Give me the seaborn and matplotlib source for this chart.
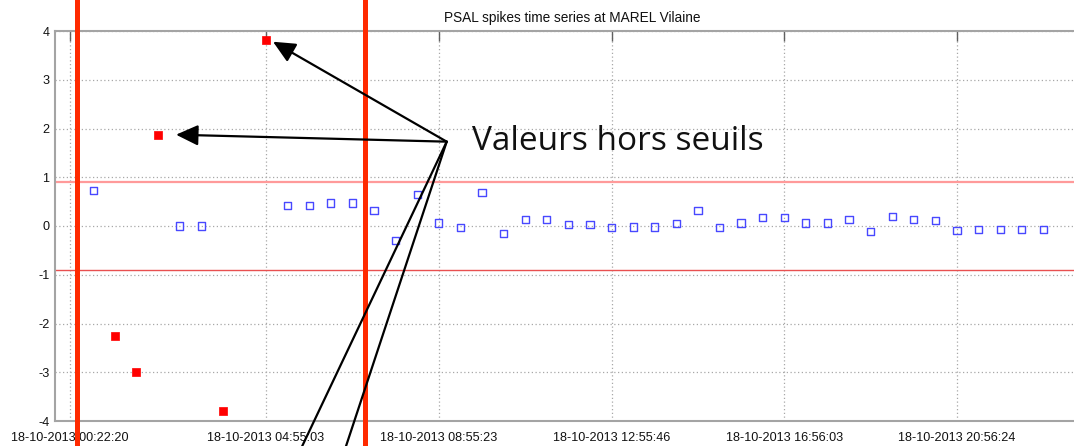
import numpy as np
import pandas as pd
import matplotlib
matplotlib.use("Agg")
import matplotlib.pyplot as plt
import matplotlib.dates as mdates
import seaborn as sns

DAY = "2013-10-18 "

# --- data -----------------------------------------------------------------
valid_times = ["00:54:43", "02:54:53", "03:24:55", "05:25:05", "05:55:08", "06:25:10",
               "06:55:13", "07:25:15", "07:55:18", "08:25:20", "08:55:23", "09:25:26",
               "09:55:29", "10:25:32", "10:55:34", "11:25:37", "11:55:40", "12:25:43",
               "12:55:46", "13:25:48", "13:55:50", "14:25:52", "14:55:54", "15:25:57",
               "15:55:59", "16:26:01", "16:56:03", "17:26:06", "17:56:08", "18:26:11",
               "18:56:14", "19:26:16", "19:56:19", "20:26:21", "20:56:24", "21:26:26",
               "21:56:29", "22:26:31", "22:56:34"]
valid_values = [0.73, 0.00, 0.00, 0.42, 0.42, 0.47,
                0.47, 0.31, -0.29, 0.65, 0.06, -0.03,
                0.68, -0.16, 0.14, 0.14, 0.03, 0.03,
                -0.03, -0.02, -0.02, 0.05, 0.32, -0.03,
                0.06, 0.18, 0.18, 0.06, 0.06, 0.14,
                -0.11, 0.20, 0.14, 0.12, -0.10, -0.07,
                -0.07, -0.07, -0.07]

spike_times = ["01:24:45", "01:54:48", "02:24:50", "03:54:58", "04:55:03"]
spike_values = [-2.26, -2.99, 1.87, -3.80, 3.82]

upper_threshold = 0.9
lower_threshold = -0.9

tick_times = ["00:22:20", "04:55:03", "08:55:23", "12:55:46", "16:56:03", "20:56:24"]
tick_labels = ["18-10-2013 " + t for t in tick_times]
y_ticks = [-4, -3, -2, -1, 0, 1, 2, 3, 4]

x_start, x_end = "2013-10-18 00:01:28", "2013-10-19 00:00:00"

# annotation overlay (vertical markers, arrows, label)
marker_line_times = ["00:32:04", "07:12:48"]
label_text = "Valeurs hors seuils"
arrow_origin = ("09:06:25", 1.73)
arrow_targets = [("05:04:47", 3.78), ("02:49:50", 1.873)]
line_targets = [("05:42:00", -4.62), ("06:44:00", -4.62)]
label_pos = ("09:41:40", 1.73)

def T(s):
    return pd.Timestamp(DAY + s)

def N(s):
    return mdates.date2num(T(s))

valid_df = pd.DataFrame({"time": [T(t) for t in valid_times], "value": valid_values})
spike_df = pd.DataFrame({"time": [T(t) for t in spike_times], "value": spike_values})

# --- figure -----------------------------------------------------------------
sns.set_style("white")
plt.rcParams["font.family"] = ["Liberation Sans", "DejaVu Sans"]

fig = plt.figure(figsize=(10.74, 4.46), dpi=100)
ax = fig.add_axes([55 / 1074, 25 / 446, 1034 / 1074, 390 / 446])

sns.scatterplot(data=valid_df, x="time", y="value", ax=ax, marker="s", s=27,
                facecolor="none", edgecolor="#4848ff", linewidth=1.0, zorder=3)
sns.scatterplot(data=spike_df, x="time", y="value", ax=ax, marker="s", s=27,
                color="#ff0000", edgecolor="#ff0000", linewidth=0.5, zorder=3)

ax.axhline(upper_threshold, color="#ff9a9a", lw=1.6, zorder=2)
ax.axhline(lower_threshold, color="#e85050", lw=1.0, zorder=2)

ax.set_xlim(T(x_start.split(" ")[1]), pd.Timestamp(x_end))
ax.set_ylim(-4, 4)
ax.set_xticks([T(t) for t in tick_times])
ax.set_xticklabels(tick_labels)
ax.set_yticks(y_ticks)
ax.set_yticklabels([str(v) for v in y_ticks])
ax.set_xlabel("")
ax.set_ylabel("")

ax.grid(True, linestyle=(0, (1, 2)), color="#a8a8a8", lw=0.9)
ax.tick_params(direction="in", top=True, right=True, length=7.5, width=1.0,
               color="#606060", labelsize=9.1, labelcolor="#111111")
ax.tick_params(axis="x", pad=8)
ax.tick_params(axis="y", pad=4)
for sp in ax.spines.values():
    sp.set_color("#a4a4a4")
    sp.set_linewidth(1.5)
    sp.set_visible(True)

ax.set_title("PSAL spikes time series at MAREL Vilaine", fontsize=9.8, pad=6.5,
             color="#111111")

# overlay: red vertical markers spanning the whole picture
for t in marker_line_times:
    ax.axvline(T(t), ymin=-0.2, ymax=1.2, color="#ff2a00", lw=3.6, clip_on=False, zorder=5)

ox, oy = N(arrow_origin[0]), arrow_origin[1]
for tx, ty in arrow_targets:
    ax.annotate("", xy=(N(tx), ty), xytext=(ox, oy), xycoords="data",
                arrowprops=dict(arrowstyle="-|>,head_length=0.75,head_width=0.35",
                                color="black", lw=1.6, shrinkA=0, shrinkB=0,
                                mutation_scale=18),
                annotation_clip=False, zorder=6)
for tx, ty in line_targets:
    ax.annotate("", xy=(N(tx), ty), xytext=(ox, oy), xycoords="data",
                arrowprops=dict(arrowstyle="-", color="black", lw=1.6,
                                shrinkA=0, shrinkB=0),
                annotation_clip=False, zorder=6)

ax.text(N(label_pos[0]), label_pos[1], label_text, fontsize=24, ha="left",
        va="center", family=["Open Sans", "DejaVu Sans"], color="#111111", zorder=7)

fig.savefig("out.png", dpi=100)
